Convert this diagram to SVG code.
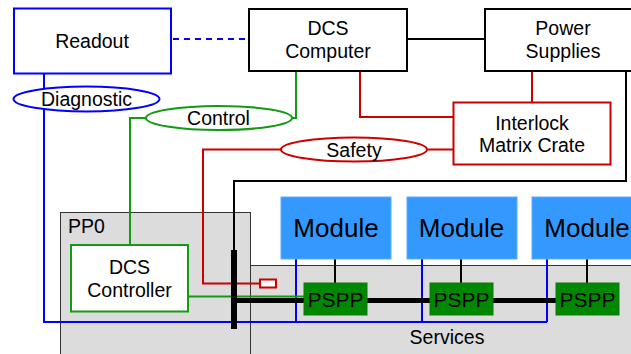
<svg xmlns="http://www.w3.org/2000/svg" width="631" height="354" viewBox="0 0 631 354">
<style>
text{font-family:"Liberation Sans",Arial,sans-serif;font-size:19.5px;fill:#000;stroke:none;text-anchor:middle}
.box{fill:#fff;stroke:#000;stroke-width:2}
.area{fill:#dcdcdc;stroke:#333;stroke-width:1}
.mod rect{fill:#3399ff;stroke:#5aaaff;stroke-width:1}
.mod text{font-size:26px}
.pspp rect{fill:#008800;stroke:#0a7a0a;stroke-width:1}
.pspp text{font-size:21px}
.ln{fill:none;stroke-width:2}
.b{stroke:#0000ff}.g{stroke:#129a12}.r{stroke:#cc0000}.k{stroke:#000}
</style>
<g id="pp0"><rect class="area" x="60.5" y="212.5" width="190" height="150"/><text x="68" y="233" style="text-anchor:start">PP0</text></g>
<g id="services"><rect class="area" x="250.5" y="265.5" width="390" height="100"/><text x="447" y="344">Services</text></g>
<g id="connectors">
<line class="ln b" x1="173" y1="39" x2="248" y2="39" stroke-dasharray="6,5" stroke-width="2.5"/>
<line class="ln k" x1="407" y1="39" x2="485" y2="39"/>
<polyline class="ln b" points="44,74 44,322 547,322"/>
<line class="ln b" x1="296" y1="259" x2="296" y2="322"/>
<line class="ln b" x1="422" y1="259" x2="422" y2="322"/>
<line class="ln b" x1="547" y1="259" x2="547" y2="322"/>
<polyline class="ln g" points="296,71 296,118 290,118"/>
<polyline class="ln g" points="147,118 130,118 130,245"/>
<line class="ln g" x1="188" y1="296.5" x2="305" y2="296.5"/>
<polyline class="ln r" points="360,71 360,117 453,117"/>
<line class="ln r" x1="532" y1="71" x2="532" y2="102"/>
<line class="ln r" x1="426" y1="149.5" x2="453" y2="149.5"/>
<polyline class="ln r" points="282,149.5 203,149.5 203,283.5 260,283.5"/>
<rect x="260" y="279.5" width="16" height="8" fill="#fff" stroke="#cc0000" stroke-width="2"/>
<polyline class="ln k" points="626,71 626,181 234,181 234,250"/>
<line class="k" x1="234" y1="250" x2="234" y2="329" stroke-width="6"/>
<line class="k" x1="234" y1="300.5" x2="587" y2="300.5" stroke-width="5"/>
<line class="ln k" x1="335" y1="259" x2="335" y2="283"/>
<line class="ln k" x1="461" y1="259" x2="461" y2="283"/>
<line class="ln k" x1="587" y1="259" x2="587" y2="283"/>
</g>
<g id="readout"><rect class="box" x="14" y="8.5" width="157" height="65" style="stroke:#0000ff"/><text x="92" y="48">Readout</text></g>
<g id="dcs-computer"><rect class="box" x="249" y="9" width="158" height="62"/><text x="328" y="35">DCS</text><text x="328" y="58">Computer</text></g>
<g id="power-supplies"><rect class="box" x="485" y="9" width="156" height="62"/><text x="563" y="35">Power</text><text x="563" y="58">Supplies</text></g>
<g id="interlock"><rect class="box" x="453.5" y="102.5" width="157" height="62" style="stroke:#cc0000"/><text x="532" y="130">Interlock</text><text x="532" y="152">Matrix Crate</text></g>
<g id="diagnostic"><ellipse cx="86.5" cy="99" rx="73" ry="12.5" fill="#fff" stroke="#0000ff" stroke-width="2"/><text x="86.5" y="106">Diagnostic</text></g>
<g id="control"><ellipse cx="219" cy="118" rx="73" ry="12" fill="#fff" stroke="#129a12" stroke-width="2"/><text x="218.5" y="125">Control</text></g>
<g id="safety"><ellipse cx="354" cy="149.5" rx="73" ry="12" fill="#fff" stroke="#cc0000" stroke-width="2"/><text x="354" y="157">Safety</text></g>
<g id="dcs-controller"><rect class="box" x="71" y="245" width="117" height="66.5" style="stroke:#129a12"/><text x="129.5" y="274">DCS</text><text x="129.5" y="296.5">Controller</text></g>
<g id="module1" class="mod"><rect x="281" y="197" width="110" height="62"/><text x="336" y="237">Module</text></g>
<g id="module2" class="mod"><rect x="407" y="197" width="110" height="62"/><text x="461.5" y="237">Module</text></g>
<g id="module3" class="mod"><rect x="532" y="197" width="110" height="62"/><text x="587" y="237">Module</text></g>
<g id="pspp1" class="pspp"><rect x="304" y="283" width="63" height="32"/><text x="335.5" y="306.5">PSPP</text></g>
<g id="pspp2" class="pspp"><rect x="430" y="283" width="63" height="32"/><text x="461.5" y="306.5">PSPP</text></g>
<g id="pspp3" class="pspp"><rect x="556" y="283" width="63" height="32"/><text x="587.5" y="306.5">PSPP</text></g>
</svg>
